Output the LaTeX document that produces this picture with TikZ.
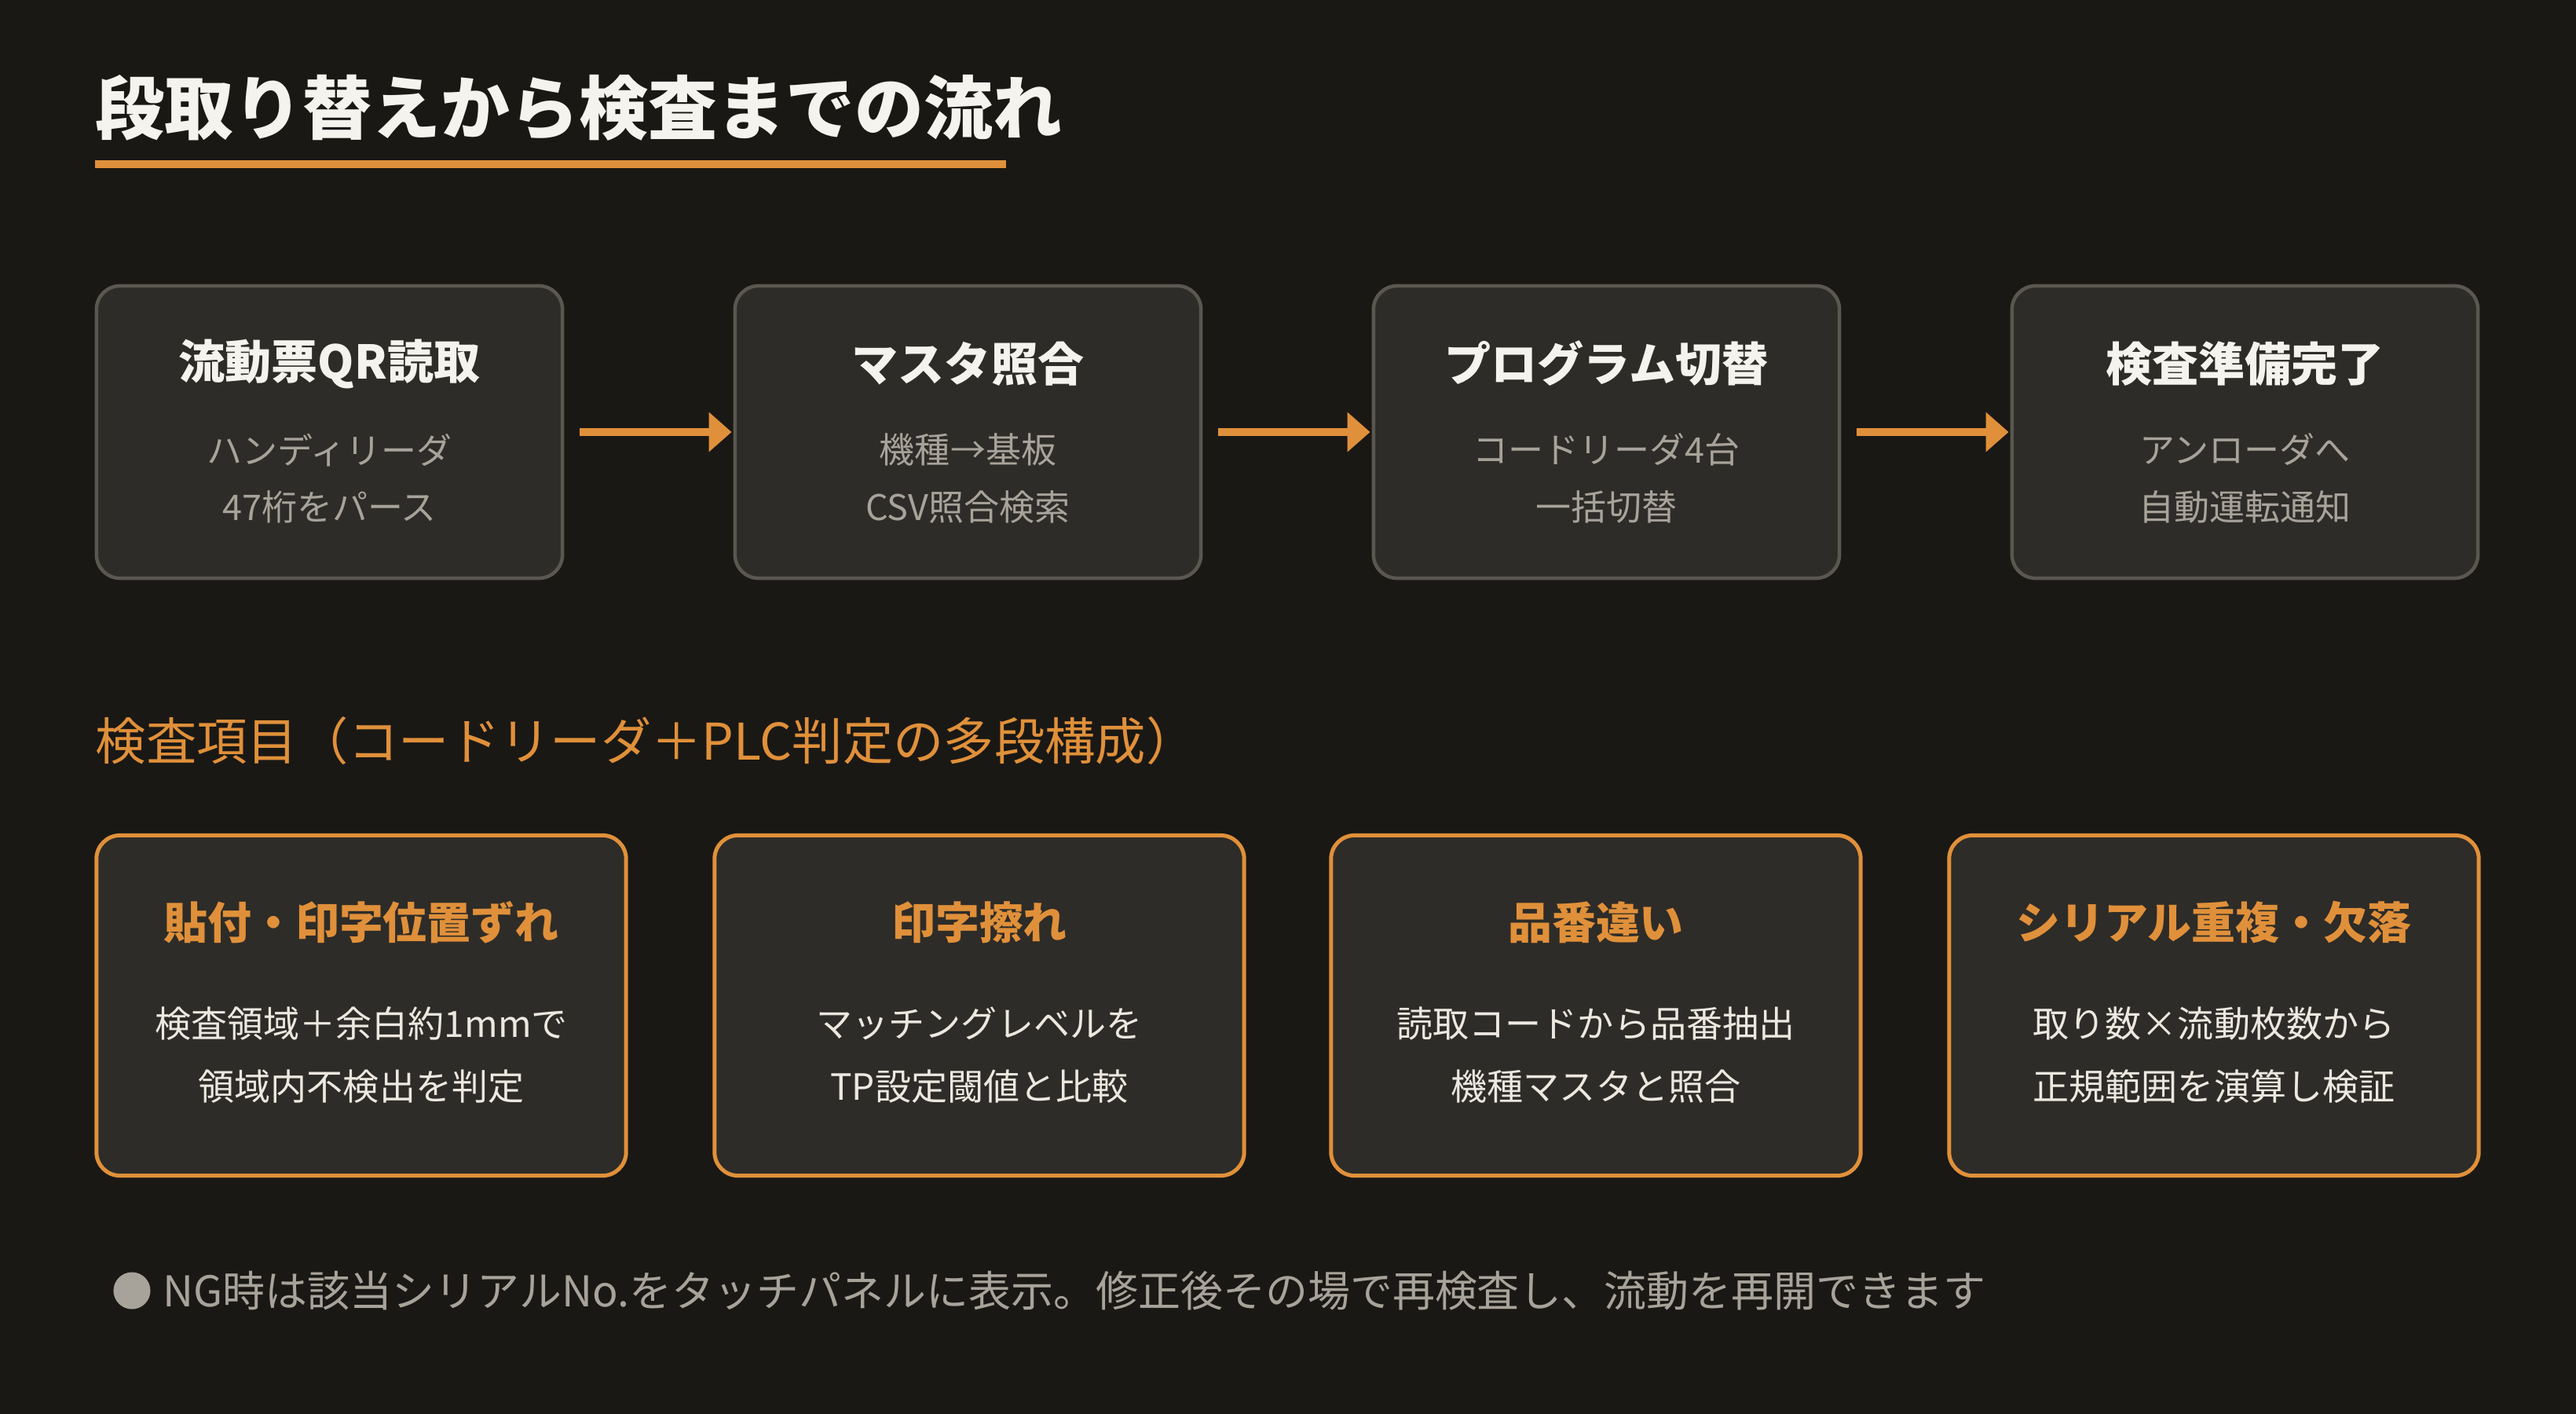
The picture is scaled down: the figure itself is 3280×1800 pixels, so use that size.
\documentclass[tikz,border=0pt]{standalone}
\usepackage{fontspec}
\setmainfont{Noto Sans CJK JP}
\usepackage{tikz}
\usetikzlibrary{arrows.meta}
\usepackage{xcolor}
\definecolor{bgcol}{HTML}{1A1815}
\definecolor{boxfill}{HTML}{2E2C28}
\definecolor{boxline}{HTML}{5A5750}
\definecolor{accent}{HTML}{E0903A}
\definecolor{headtxt}{HTML}{F5F3EE}
\definecolor{subtxt}{HTML}{A8A39A}
\definecolor{bodytxt}{HTML}{ECE8E0}
\tikzset{
  stepbox/.style={draw=boxline, line width=0.045cm, fill=boxfill,
    rounded corners=0.3cm, minimum width=5.93cm, minimum height=3.72cm, inner sep=0},
  checkbox/.style={draw=accent, line width=0.05cm, fill=boxfill,
    rounded corners=0.3cm, minimum width=6.74cm, minimum height=4.33cm, inner sep=0},
  steptitle/.style={text=headtxt, inner sep=0, font=\fontsize{16.8}{20}\selectfont\bfseries},
  stepsub/.style={text=subtxt, inner sep=0, align=center, font=\fontsize{12.8}{20.6}\selectfont},
  checktitle/.style={text=accent, inner sep=0, font=\fontsize{15.9}{19}\selectfont\bfseries},
  checkbody/.style={text=bodytxt, inner sep=0, align=center, font=\fontsize{13.1}{22.8}\selectfont},
  flowarrow/.style={draw=accent, line width=0.1cm,
    -{Triangle[length=0.29cm,width=0.49cm]}, shorten <=0.2cm, shorten >=0.02cm}
}
\begin{document}
\begin{tikzpicture}[x=0.01cm, y=-0.01cm]
\fill[bgcol] (0,0) rectangle (3280,1800);
% title
\node[anchor=west, inner sep=0, text=headtxt, font=\fontsize{25}{30}\selectfont\bfseries]
  (title) at (121,137) {段取り替えから検査までの流れ};
\fill[accent] (121,204) rectangle (1281,214);
% flow steps
\node[stepbox] (s1) at (419.5,550) {};
\node[stepbox] (s2) at (1232.5,550) {};
\node[stepbox] (s3) at (2045.5,550) {};
\node[stepbox] (s4) at (2858.5,550) {};
\node[steptitle] (s1t) at (419.5,463) {流動票QR読取};
\node[steptitle] (s2t) at (1232.5,463) {マスタ照合};
\node[steptitle] (s3t) at (2045.5,463) {プログラム切替};
\node[steptitle] (s4t) at (2858.5,463) {検査準備完了};
\node[stepsub] (s1s) at (419.5,609) {ハンディリーダ\\47桁をパース};
\node[stepsub] (s2s) at (1232.5,609) {機種→基板\\CSV照合検索};
\node[stepsub] (s3s) at (2045.5,609) {コードリーダ4台\\一括切替};
\node[stepsub] (s4s) at (2858.5,609) {アンローダへ\\自動運転通知};
\draw[flowarrow] (s1) -- (s2);
\draw[flowarrow] (s2) -- (s3);
\draw[flowarrow] (s3) -- (s4);
% inspection items
\node[anchor=west, inner sep=0, text=accent, font=\fontsize{18.3}{22}\selectfont]
  (items) at (121,943) {検査項目（コードリーダ＋PLC判定の多段構成）};
\node[checkbox] (c1) at (460,1280) {};
\node[checkbox] (c2) at (1247,1280) {};
\node[checkbox] (c3) at (2032,1280) {};
\node[checkbox] (c4) at (2819,1280) {};
\node[checktitle] (c1t) at (460,1174) {貼付・印字位置ずれ};
\node[checktitle] (c2t) at (1247,1174) {印字擦れ};
\node[checktitle] (c3t) at (2032,1174) {品番違い};
\node[checktitle] (c4t) at (2819,1174) {シリアル重複・欠落};
\node[checkbody] (c1b) at (460,1343) {検査領域＋余白約1mmで\\領域内不検出を判定};
\node[checkbody] (c2b) at (1247,1343) {マッチングレベルを\\TP設定閾値と比較};
\node[checkbody] (c3b) at (2032,1343) {読取コードから品番抽出\\機種マスタと照合};
\node[checkbody] (c4b) at (2819,1343) {取り数×流動枚数から\\正規範囲を演算し検証};
% note
\node[circle, fill=subtxt, minimum size=0.47cm, inner sep=0] (dot) at (168,1643) {};
\node[anchor=west, inner sep=0, text=subtxt, font=\fontsize{15.35}{19}\selectfont]
  (note) at (207,1643) {NG時は該当シリアルNo.をタッチパネルに表示。修正後その場で再検査し、流動を再開できます};
\end{tikzpicture}
\end{document}
